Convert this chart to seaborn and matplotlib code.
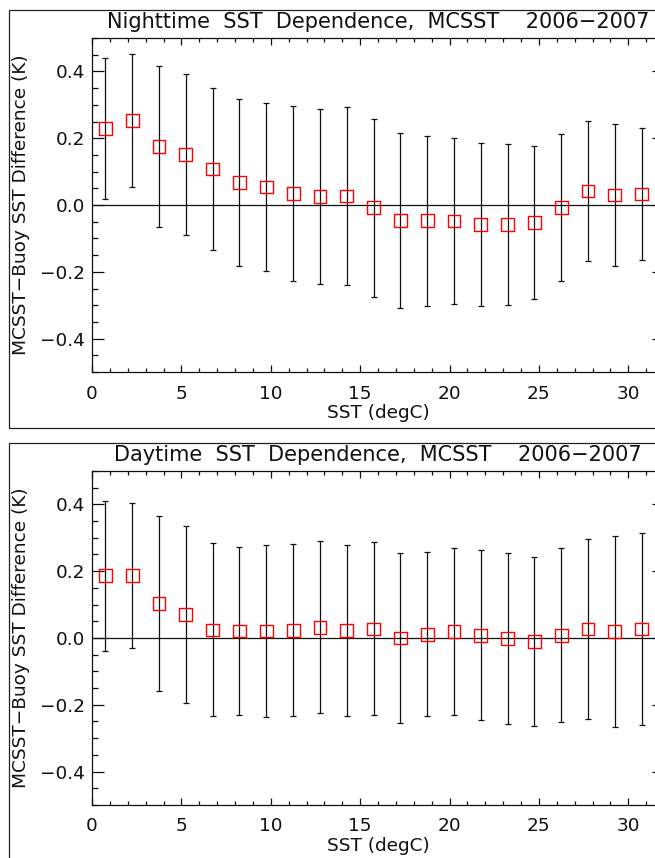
import matplotlib
matplotlib.use("Agg")
import matplotlib.pyplot as plt
import seaborn as sns
import pandas as pd
from matplotlib.patches import Rectangle
from matplotlib.ticker import MultipleLocator, FuncFormatter

# SST bin centres (degC)
sst_bins = [0.75, 2.25, 3.75, 5.25, 6.75, 8.25, 9.75, 11.25, 12.75, 14.25, 15.75,
            17.25, 18.75, 20.25, 21.75, 23.25, 24.75, 26.25, 27.75, 29.25, 30.75]

# Nighttime MCSST - buoy mean difference and standard deviation (K)
night_mean = [0.229, 0.253, 0.175, 0.151, 0.108, 0.067, 0.054, 0.035, 0.026, 0.027, -0.008,
              -0.046, -0.047, -0.048, -0.059, -0.059, -0.053, -0.008, 0.042, 0.030, 0.033]
night_std = [0.210, 0.200, 0.241, 0.240, 0.243, 0.249, 0.251, 0.261, 0.261, 0.267, 0.266,
             0.261, 0.254, 0.249, 0.244, 0.241, 0.229, 0.220, 0.211, 0.214, 0.199]

# Daytime MCSST - buoy mean difference and standard deviation (K)
day_mean = [0.186, 0.186, 0.103, 0.070, 0.024, 0.021, 0.021, 0.023, 0.032, 0.022, 0.027,
            0.000, 0.011, 0.019, 0.008, -0.002, -0.011, 0.008, 0.027, 0.019, 0.027]
day_std = [0.224, 0.217, 0.261, 0.264, 0.259, 0.251, 0.257, 0.258, 0.258, 0.256, 0.259,
           0.254, 0.245, 0.250, 0.255, 0.257, 0.253, 0.261, 0.270, 0.285, 0.287]

titles = ["Nighttime  SST  Dependence,  MCSST    2006\u22122007",
          "Daytime  SST  Dependence,  MCSST    2006\u22122007"]
ylabel = "MCSST\u2212Buoy SST Difference (K)"
xlabel = "SST (degC)"

sns.set_style("ticks")
plt.rcParams["font.family"] = ["DejaVu Sans"]
FS = 13.3
TITLE_FS = 15
LW = 0.9
INK = "#111111"

fig = plt.figure(figsize=(6.55, 8.58), dpi=100)

# panel frames (extend past the right/bottom edge of the canvas)
fig.add_artist(Rectangle((0.0145, 0.5008), 1.2, 0.4875, transform=fig.transFigure,
                         fill=False, lw=LW, ec="#222222"))
fig.add_artist(Rectangle((0.0145, -0.1), 1.2, 0.5833, transform=fig.transFigure,
                         fill=False, lw=LW, ec="#222222"))

panels = [
    (night_mean, night_std, titles[0], [0.1405, 0.5664, 0.8733, 0.3893]),
    (day_mean, day_std, titles[1], [0.1405, 0.0618, 0.8733, 0.3893]),
]


def fmt_y(v, _):
    return f"{v:.1f}".replace("-", "\u2212")


for mean, std, title, pos in panels:
    ax = fig.add_axes(pos)
    df = pd.DataFrame({"sst": sst_bins, "diff": mean, "sd": std})

    ax.axhline(0, color=INK, lw=LW, zorder=1)
    ax.errorbar(df["sst"], df["diff"], yerr=df["sd"], fmt="none", ecolor=INK,
                elinewidth=LW, capsize=2.4, capthick=LW, zorder=2)
    sns.scatterplot(data=df, x="sst", y="diff", marker="s", s=85,
                    facecolor="none", edgecolor="red", linewidth=1.0,
                    ax=ax, zorder=3, legend=False)

    ax.set_xlim(0, 32)
    ax.set_ylim(-0.5, 0.5)
    ax.xaxis.set_major_locator(MultipleLocator(5))
    ax.xaxis.set_minor_locator(MultipleLocator(1))
    ax.yaxis.set_major_locator(MultipleLocator(0.2))
    ax.yaxis.set_minor_locator(MultipleLocator(0.05))
    ax.yaxis.set_major_formatter(FuncFormatter(fmt_y))

    for sp in ax.spines.values():
        sp.set_linewidth(LW)
        sp.set_color(INK)
        sp.set_visible(True)

    ax.tick_params(axis="both", which="both", direction="in", top=True, right=True,
                   width=LW, color=INK, labelsize=FS, labelcolor=INK)
    ax.tick_params(axis="x", which="major", length=5.0, pad=9)
    ax.tick_params(axis="x", which="minor", length=2.9)
    ax.tick_params(axis="y", which="major", length=8.6, pad=5)
    ax.tick_params(axis="y", which="minor", length=4.3)

    ax.set_title(title, fontsize=TITLE_FS, color=INK, pad=7.5)
    ax.set_xlabel(xlabel, fontsize=FS, color=INK, labelpad=1)
    ax.set_ylabel(ylabel, fontsize=FS, color=INK, labelpad=7)
    ax.grid(False)

fig.savefig("out.png", dpi=100)
